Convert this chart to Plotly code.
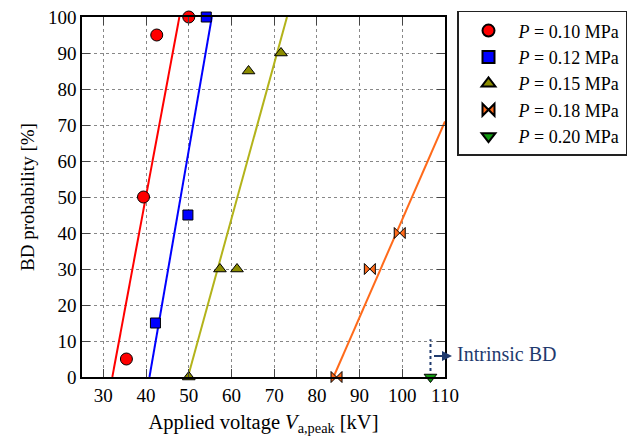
import plotly.graph_objects as go

# ---- data ----
v_010 = [35.4, 39.4, 42.5, 50.0]
p_010 = [5, 50, 95, 100]
v_012 = [42.2, 49.8, 54.1]
p_012 = [15, 45, 100]
v_015 = [50.0, 57.3, 61.3, 64.0, 71.6]
p_015 = [0, 30, 30, 85, 90]
v_018 = [84.6, 92.4, 99.4]
p_018 = [0, 30, 40]
v_020 = [106.6]
p_020 = [0]

# fitted lines (endpoints)
fit_v_010 = [32.1, 47.8]
fit_p_010 = [0, 100]
fit_v_012 = [40.8, 55.4]
fit_p_012 = [0, 100]
fit_v_015 = [49.8, 73.0]
fit_p_015 = [0, 100]
fit_v_018 = [83.9, 110.0]
fit_p_018 = [0, 71]

# intrinsic BD marker line
intr_v = 106.6
intr_p = [0, 10.5]
intr_arrow_p = 5.8

x_ticks = [30, 40, 50, 60, 70, 80, 90, 100, 110]
y_ticks = [0, 10, 20, 30, 40, 50, 60, 70, 80, 90, 100]

FONT = "Liberation Serif"
NAVY = "#1f3a6e"

series = [
    ("<i>P</i> = 0.10 MPa", v_010, p_010, fit_v_010, fit_p_010, "circle", 12, "#ff0000", "#ff0000"),
    ("<i>P</i> = 0.12 MPa", v_012, p_012, fit_v_012, fit_p_012, "square", 10, "#0000ff", "#0000ff"),
    ("<i>P</i> = 0.15 MPa", v_015, p_015, fit_v_015, fit_p_015, "triangle-up", 11, "#8c8c00", "#b3b31a"),
    ("<i>P</i> = 0.18 MPa", v_018, p_018, fit_v_018, fit_p_018, "bowtie", 11, "#ff6a1a", "#ff6a1a"),
    ("<i>P</i> = 0.20 MPa", v_020, p_020, None, None, "triangle-down", 11, "#119911", None),
]

fig = go.Figure()

for name, vx, py, fx, fy, sym, sz, mcol, lcol in series:
    if fx is not None:
        fig.add_trace(go.Scatter(x=fx, y=fy, mode="lines", line=dict(color=lcol, width=2),
                                 showlegend=False, hoverinfo="skip", cliponaxis=True))

for name, vx, py, fx, fy, sym, sz, mcol, lcol in series:
    fig.add_trace(go.Scatter(x=vx, y=py, mode="markers", name=name,
                             marker=dict(symbol=sym, size=sz, color=mcol,
                                         line=dict(color="black", width=1)),
                             cliponaxis=False))

fig.add_shape(type="line", xref="x", yref="y", x0=intr_v, x1=intr_v, y0=intr_p[0], y1=intr_p[1],
              line=dict(color=NAVY, width=2, dash="dot"), layer="below")

fig.add_annotation(xref="paper", yref="y", x=(452 - 82) / 363, y=intr_arrow_p, text=" ",
                   showarrow=True, ax=-20, ay=0, arrowhead=2, arrowsize=1, arrowwidth=2,
                   arrowcolor=NAVY, font=dict(size=4))
fig.add_annotation(xref="paper", yref="y", x=(455 - 82) / 363, y=6.5, text="Intrinsic BD",
                   showarrow=False, xanchor="left", yanchor="middle",
                   font=dict(family=FONT, size=20, color=NAVY))

axis_common = dict(showline=True, linecolor="black", linewidth=1.5, mirror="ticks",
                   ticks="inside", ticklen=8, tickcolor="#444", tickwidth=1,
                   showgrid=True, gridcolor="#888", gridwidth=1, griddash="dot",
                   zeroline=False, automargin=False, ticklabeloverflow="allow",
                   tickfont=dict(family=FONT, size=19, color="black"))

fig.update_xaxes(range=[25, 110], tickvals=x_ticks, **axis_common,
                 title=dict(text="Applied voltage <i>V</i><sub>a,peak</sub> [kV]",
                            font=dict(family=FONT, size=20.5, color="black"), standoff=10))
fig.update_yaxes(range=[0, 100], tickvals=y_ticks, **axis_common,
                 title=dict(text="BD probability [%]",
                            font=dict(family=FONT, size=19, color="black"), standoff=8))

fig.update_layout(
    width=634, height=432,
    margin=dict(l=74, r=197, t=9, b=63, autoexpand=False),
    paper_bgcolor="white", plot_bgcolor="white",
    font=dict(family=FONT, size=19, color="black"),
    legend=dict(x=(457 - 82) / 363, y=1.017, xanchor="left", yanchor="top",
                bordercolor="#222", borderwidth=1.5, bgcolor="white",
                font=dict(family=FONT, size=18), itemsizing="constant",
                itemwidth=50, tracegroupgap=0),
    showlegend=True,
)

fig.write_html("out.html")
